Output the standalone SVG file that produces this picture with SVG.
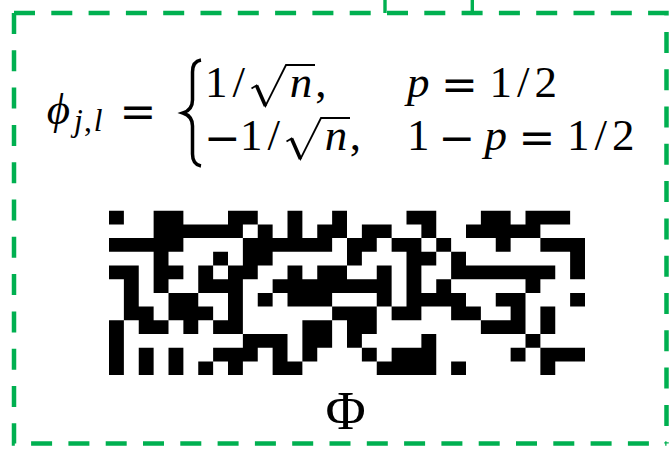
<svg xmlns="http://www.w3.org/2000/svg" width="669" height="453" viewBox="0 0 669 453">
<style>
.m{font-family:"Liberation Serif","DejaVu Serif",serif;font-size:45px;fill:#000;text-anchor:middle}
.i{font-style:italic}
.s{font-size:31.5px}
.op{font-family:"DejaVu Serif","Liberation Serif",serif;font-size:44px}
.box{fill:none;stroke:#00b050;stroke-width:4.5;stroke-dasharray:21 16.3}
.con{stroke:#00b050;stroke-width:3.4;fill:none}
.rad{fill:none;stroke:#000;stroke-width:1.8;stroke-linejoin:miter}
.radk{fill:none;stroke:#000;stroke-width:3.6}
</style>
<rect width="669" height="453" fill="#fff"/>
<g id="connectors">
<line class="con" x1="385" y1="0" x2="385" y2="13"/>
<line class="con" x1="472.3" y1="0" x2="472.3" y2="13"/>
</g>
<g id="box">
<path class="box" d="M14,13 H666.5 V443.5"/>
<path class="box" d="M14,13 V443.5 H666.5"/>
</g>
<g id="formula">
<text class="m i" x="58.4" y="124">ϕ</text>
<text class="m i s" x="78.3" y="131">j</text>
<text class="m s" x="88" y="131">,</text>
<text class="m i s" x="98.2" y="131">l</text>
<text class="m op" x="138" y="127.3">=</text>
<path d="M201,60 C195,61 192.5,65 192.5,72 V100 C192.5,107 189,111 183,113 C189,115 192.5,119 192.5,126 V154 C192.5,161 195,165 201,166" fill="none" stroke="#000" stroke-width="3.5"/>
<text class="m" x="216.25" y="97">1</text>
<text class="m" x="238.75" y="97">/</text>
<path class="rad" d="M251.5,88.5 L256.5,85.5 L265.5,106 L286,65 H315"/>
<path class="radk" d="M256.5,85.5 L265.5,106"/>
<text class="m i" x="301" y="97">n</text>
<text class="m" x="320.8" y="97">,</text>
<text class="m i" x="418.3" y="97">p</text>
<text class="m op" x="459.5" y="100.3">=</text>
<text class="m" x="500.75" y="97">1</text>
<text class="m" x="523.25" y="97">/</text>
<text class="m" x="545.75" y="97">2</text>
<text class="m op" x="222.5" y="153.3">−</text>
<text class="m" x="251.25" y="150">1</text>
<text class="m" x="273.75" y="150">/</text>
<path class="rad" d="M286.5,141.5 L291.5,138.5 L300.5,159 L321,118 H350"/>
<path class="radk" d="M291.5,138.5 L300.5,159"/>
<text class="m i" x="336" y="150">n</text>
<text class="m" x="355.3" y="150">,</text>
<text class="m" x="418.25" y="150">1</text>
<text class="m op" x="457" y="153.3">−</text>
<text class="m i" x="495.8" y="150">p</text>
<text class="m op" x="537" y="153.3">=</text>
<text class="m" x="578.25" y="150">1</text>
<text class="m" x="600.75" y="150">/</text>
<text class="m" x="623.25" y="150">2</text>
</g>
<g id="matrix">
<path transform="translate(109 210.7) scale(14.875 13.7)" fill="#000" d="
M0 0h1v1h-1z M3 0h2v1h-2z M8 0h2v1h-2z M12 0h1v1h-1z M15 0h1v1h-1z M20 0h2v1h-2z M25 0h2v1h-2z M28 0h3v1h-3z
M3 1h6v1h-6z M10 1h1v1h-1z M12 1h1v1h-1z M14 1h2v1h-2z M17 1h2v1h-2z M21 1h1v1h-1z M24 1h5v1h-5z
M0 2h5v1h-5z M9 2h6v1h-6z M16 2h2v1h-2z M19 2h2v1h-2z M22 2h1v1h-1z M26 2h1v1h-1z M29 2h3v1h-3z
M3 3h1v1h-1z M7 3h1v1h-1z M9 3h2v1h-2z M16 3h1v1h-1z M20 3h2v1h-2z M23 3h1v1h-1z M31 3h1v1h-1z
M0 4h2v1h-2z M3 4h2v1h-2z M6 4h1v1h-1z M8 4h2v1h-2z M12 4h1v1h-1z M14 4h2v1h-2z M18 4h1v1h-1z M20 4h1v1h-1z M23 4h7v1h-7z M31 4h1v1h-1z
M1 5h1v1h-1z M3 5h1v1h-1z M6 5h3v1h-3z M11 5h8v1h-8z M20 5h1v1h-1z M22 5h1v1h-1z M28 5h1v1h-1z
M1 6h1v1h-1z M4 6h2v1h-2z M8 6h1v1h-1z M10 6h1v1h-1z M12 6h3v1h-3z M18 6h1v1h-1z M20 6h4v1h-4z M26 6h2v1h-2z M31 6h1v1h-1z
M1 7h2v1h-2z M4 7h3v1h-3z M8 7h1v1h-1z M15 7h3v1h-3z M19 7h2v1h-2z M23 7h2v1h-2z M27 7h1v1h-1z M29 7h1v1h-1z
M0 8h1v1h-1z M2 8h2v1h-2z M5 8h1v1h-1z M7 8h2v1h-2z M13 8h2v1h-2z M16 8h2v1h-2z M25 8h3v1h-3z M29 8h1v1h-1z
M0 9h1v1h-1z M9 9h3v1h-3z M13 9h2v1h-2z M16 9h1v1h-1z M21 9h1v1h-1z M28 9h1v1h-1z
M0 10h1v1h-1z M2 10h1v1h-1z M4 10h1v1h-1z M7 10h3v1h-3z M11 10h1v1h-1z M13 10h1v1h-1z M17 10h1v1h-1z M19 10h3v1h-3z M27 10h1v1h-1z M29 10h3v1h-3z
M0 11h1v1h-1z M2 11h1v1h-1z M4 11h1v1h-1z M6 11h1v1h-1z M8 11h1v1h-1z M11 11h2v1h-2z M18 11h4v1h-4z M23 11h1v1h-1z M29 11h1v1h-1z"/>
</g>
<g id="label">
<text class="m" x="345.5" y="429" style="font-size:55px">Φ</text>
</g>
</svg>
